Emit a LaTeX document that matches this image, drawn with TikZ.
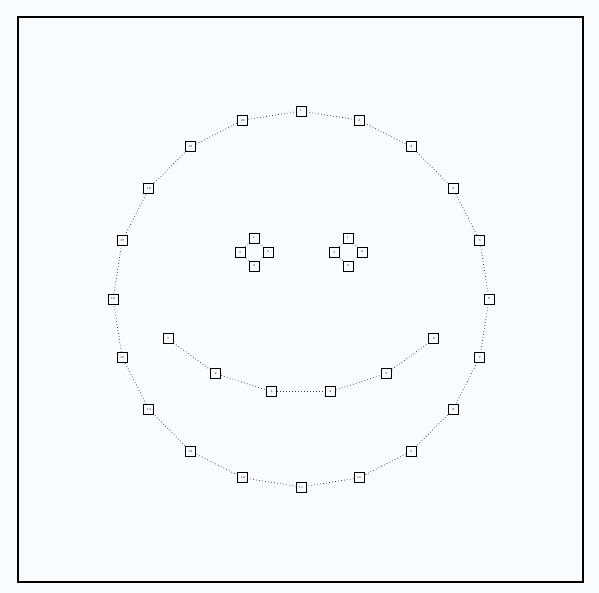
\documentclass[tikz,border=0pt]{standalone}
\definecolor{bgc}{RGB}{249,252,254}
\definecolor{linkc}{RGB}{60,60,60}
\begin{document}
\begin{tikzpicture}[x=1pt,y=-1pt,
  vbox/.style={draw=black,fill=bgc,line width=0.9pt,minimum size=10pt,inner sep=0pt,font=\fontsize{3}{3}\selectfont},
  link/.style={draw=linkc,line width=0.7pt,dash pattern=on 0.8pt off 2.2pt}]
\fill[bgc] (0,0) rectangle (599,593);
\useasboundingbox (0,0) rectangle (599,593);
\draw[line width=1.6pt] (18,17) rectangle (583,582);
% face
\foreach \i in {0,...,19}{
  \pgfmathsetmacro{\a}{90-18*\i}
  \node[vbox] (f\i) at ({301+188*cos(\a)},{299-188*sin(\a)}) {\pgfmathparse{int(\i+1)}\pgfmathresult};
}
\foreach \i in {0,...,19}{
  \pgfmathtruncatemacro{\j}{mod(\i+1,20)}
  \draw[link] (f\i) -- (f\j);
}
% eyes
\foreach \e/\cx in {l/254,r/348}{
  \foreach \k/\a in {0/90,1/0,2/270,3/180}{
    \node[vbox] (\e\k) at ({\cx+14*cos(\a)},{252-14*sin(\a)}) {\pgfmathparse{int(\k+1)}\pgfmathresult};
  }
  \draw[link] (\e0) -- (\e1);
  \draw[link] (\e1) -- (\e2);
  \draw[link] (\e2) -- (\e3);
  \draw[link] (\e3) -- (\e0);
}
% mouth
\foreach \i in {0,...,5}{
  \pgfmathsetmacro{\a}{225+18*\i}
  \node[vbox] (m\i) at ({301+188*cos(\a)},{206-188*sin(\a)}) {\pgfmathparse{int(\i+1)}\pgfmathresult};
}
\foreach \i in {0,...,4}{
  \pgfmathtruncatemacro{\j}{\i+1}
  \draw[link] (m\i) -- (m\j);
}
\end{tikzpicture}
\end{document}
